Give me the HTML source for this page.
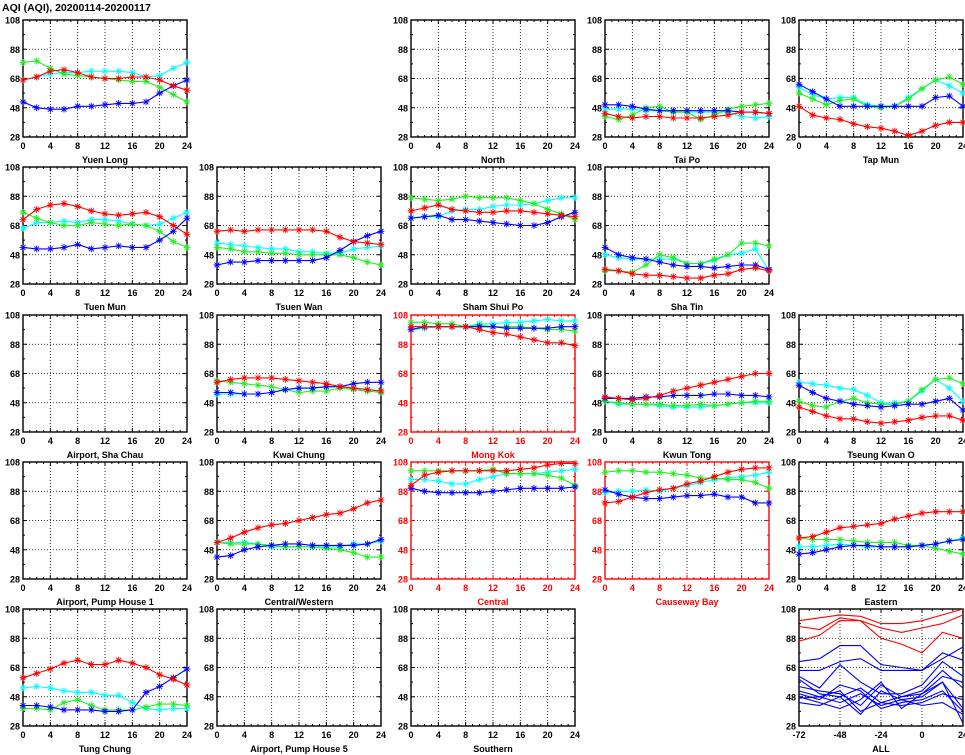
<!DOCTYPE html>
<html><head><meta charset="utf-8"><style>
html,body{margin:0;padding:0;background:#fff;}
svg{display:block;font-family:"Liberation Sans",sans-serif;}
</style></head><body>
<svg id="chart" width="965" height="755" viewBox="0 0 965 755" xmlns="http://www.w3.org/2000/svg">
<text x="2" y="11" font-size="10.5" font-weight="bold">AQI (AQI), 20200114-20200117</text>
</svg>
<script>
const hours=[0,2,4,6,8,10,12,14,16,18,20,22,24];
const yTicks=[28,48,68,88,108];
const yTickLabels=["28","48","68","88","108"];
const xTicks=[0,4,8,12,16,20,24];
const allHours=[-72,-60,-48,-36,-24,-12,0,12,24];
const allXTicks=[-72,-48,-24,0,24];

const yuenLongRed=[67,69,73,74,72,69,68,68,69,69,67,63,60];
const yuenLongGreen=[79,80,75,71,70,69,68,67,66,66,62,57,52];
const yuenLongCyan=[67,69,71,72,72,73,73,73,72,69,70,75,79];
const yuenLongBlue=[52,48,47,47,49,49,50,51,51,52,58,63,67];

const taiPoRed=[44,42,41,42,42,41,41,41,42,43,45,45,44];
const taiPoGreen=[42,40,43,48,49,45,45,40,43,47,49,50,51];
const taiPoCyan=[47,47,47,46,46,45,45,45,45,45,42,41,42];
const taiPoBlue=[50,50,49,47,46,46,46,46,46,46,45,45,44];

const tapMunRed=[49,43,41,40,37,35,34,32,29,32,36,38,38];
const tapMunGreen=[58,54,50,53,54,49,48,49,54,61,67,69,64];
const tapMunCyan=[62,57,54,55,55,50,49,49,55,61,67,63,58];
const tapMunBlue=[64,59,54,49,49,49,49,49,49,49,55,56,49];

const tuenMunRed=[72,79,82,83,81,78,76,75,76,77,74,68,62];
const tuenMunGreen=[77,73,70,68,68,70,69,68,69,68,64,57,53];
const tuenMunCyan=[66,70,70,71,70,72,72,71,69,68,69,73,77];
const tuenMunBlue=[53,52,52,53,55,52,53,54,53,53,58,64,73];

const tsuenWanRed=[64,65,64,65,65,65,65,65,64,60,57,56,55];
const tsuenWanGreen=[53,52,50,50,49,49,48,48,48,48,46,43,41];
const tsuenWanCyan=[56,55,54,53,52,52,50,50,49,49,52,53,54];
const tsuenWanBlue=[41,43,43,44,44,44,44,44,46,51,57,61,64];

const shamShuiPoRed=[78,80,82,79,78,77,77,78,78,77,76,75,74];
const shamShuiPoGreen=[87,86,85,86,88,87,87,87,85,83,79,76,72];
const shamShuiPoCyan=[73,74,74,78,79,79,81,82,82,83,85,87,87];
const shamShuiPoBlue=[73,74,75,72,72,71,70,69,68,68,70,74,77];

const shaTinRed=[38,37,35,34,34,33,32,32,34,35,38,39,37];
const shaTinGreen=[37,37,36,41,48,46,42,42,45,48,56,56,54];
const shaTinCyan=[48,46,45,45,45,45,42,42,44,48,49,52,37];
const shaTinBlue=[53,48,46,45,43,41,40,40,39,40,41,41,38];

const kwaiChungRed=[62,64,65,65,65,64,63,62,61,59,58,57,56];
const kwaiChungGreen=[63,62,61,60,59,57,55,56,56,58,57,56,55];
const kwaiChungCyan=[54,54,54,54,55,57,58,58,59,59,58,57,56];
const kwaiChungBlue=[55,55,54,54,55,57,58,58,59,59,61,62,62];

const mongKokRed=[100,100,100,100,100,98,96,95,93,91,89,89,87];
const mongKokGreen=[103,103,102,102,100,101,100,100,100,99,98,98,97];
const mongKokCyan=[98,99,100,100,100,102,102,103,103,104,105,104,104];
const mongKokBlue=[98,100,100,100,100,100,100,99,99,99,99,100,100];

const kwunTongRed=[52,51,50,51,53,56,58,60,62,64,66,68,68];
const kwunTongGreen=[49,48,47,47,47,46,46,47,46,47,48,49,49];
const kwunTongCyan=[49,47,47,47,46,45,45,45,46,47,48,48,48];
const kwunTongBlue=[51,51,51,52,52,53,53,53,54,54,53,53,52];

const tseungKwanORed=[45,42,39,37,37,35,34,35,36,38,39,39,36];
const tseungKwanOGreen=[49,46,45,49,51,48,47,47,49,57,64,65,61];
const tseungKwanOCyan=[62,61,60,58,57,53,48,48,49,56,64,58,49];
const tseungKwanOBlue=[60,55,51,49,47,46,45,46,47,47,49,51,43];

const centralWesternRed=[53,56,60,63,65,66,68,70,72,73,76,80,82];
const centralWesternGreen=[53,52,52,52,51,50,50,50,49,48,46,43,43];
const centralWesternCyan=[53,53,53,52,50,50,50,50,50,50,52,52,54];
const centralWesternBlue=[43,44,48,50,51,52,52,51,51,51,51,52,55];

const centralRed=[92,99,101,102,102,102,102,102,103,104,106,107,107];
const centralGreen=[102,102,102,102,102,102,103,100,100,100,99,97,92];
const centralCyan=[96,96,95,93,93,96,98,100,100,100,101,102,103];
const centralBlue=[90,88,87,87,87,87,88,89,90,90,90,90,91];

const causewayBayRed=[80,81,84,87,89,90,93,95,98,101,103,104,104];
const causewayBayGreen=[101,102,102,101,101,100,99,97,97,96,96,94,90];
const causewayBayCyan=[87,88,88,89,88,90,92,94,96,97,98,99,101];
const causewayBayBlue=[89,86,84,83,83,84,85,85,86,84,84,80,80];

const easternRed=[56,57,60,63,64,65,66,69,71,73,74,74,74];
const easternGreen=[56,55,55,55,54,53,53,53,51,51,49,47,45];
const easternCyan=[50,50,51,52,51,50,50,50,50,51,52,54,56];
const easternBlue=[45,46,48,50,51,51,50,50,50,51,52,54,55];

const tungChungRed=[61,64,67,71,73,70,70,73,71,68,63,60,56];
const tungChungGreen=[40,40,39,44,46,42,39,39,39,41,43,43,42];
const tungChungCyan=[54,55,54,52,51,51,49,49,44,40,39,40,40];
const tungChungBlue=[42,42,41,39,39,39,38,38,39,51,55,61,67];

const allRed1=[100,102,104,103,98,98,100,104,108];
const allRed2=[96,94,102,100,88,84,78,92,88];
const allRed3=[86,90,100,100,95,92,95,98,104];
const allBlue1=[72,74,83,83,70,68,66,78,73];
const allBlue2=[66,66,72,74,66,66,66,74,82];
const allBlue3=[62,54,70,58,50,50,56,72,62];
const allBlue4=[60,50,48,54,44,48,50,62,58];
const allBlue5=[55,52,50,42,56,48,52,66,54];
const allBlue6=[52,48,44,50,42,46,48,58,40];
const allBlue7=[50,46,56,52,40,44,46,52,38];
const allBlue8=[48,44,40,46,58,40,50,58,30];
const allBlue9=[47,48,52,38,44,42,44,50,46];
const allBlue10=[44,42,48,36,52,46,42,44,36];

const NS="http://www.w3.org/2000/svg";
const svg=document.getElementById('chart');
const rowTops=[20,167,315,462,609];
const PW=164, PH=117;
const COLORS={red:"#ff0000",green:"#22ee22",blue:"#0000ff",cyan:"#00ffff"};

function mk(tag,attrs,parent){const e=document.createElementNS(NS,tag);for(const k in attrs)e.setAttribute(k,attrs[k]);(parent||svg).appendChild(e);return e;}

function panel(col,row,title,slug,redFrame,series,xMin,xMax,xt,xs,markers){
  const L=23+194*col, T=rowTops[row];
  const fc=redFrame?"#ff0000":"#000";
  const g=mk('g',{});
  
  
  const sx=v=>L+(v-xMin)/(xMax-xMin)*PW;
  const sy=v=>T+PH-(v-28)/80*PH;
  [48,68,88].forEach(v=>{const l=mk('line',{x1:L,x2:L+PW,y1:sy(v),y2:sy(v),stroke:"#000","stroke-width":0.8,"stroke-dasharray":"1,2"},g);
    
    });
  xt.slice(1,-1).forEach(v=>{const l=mk('line',{x1:sx(v),x2:sx(v),y1:T,y2:T+PH,stroke:"#000","stroke-width":0.8,"stroke-dasharray":"1,2"},g);
    
    });
  const step=(xMax-xMin)/(xMin<0?16:24);
  for(let v=xMin;v<=xMax+0.01;v+=step){
    const len=(xt.some(t=>Math.abs(t-v)<0.01))?4:2;
    mk('line',{x1:sx(v),x2:sx(v),y1:T,y2:T+len,stroke:fc,"stroke-width":1},g);
    mk('line',{x1:sx(v),x2:sx(v),y1:T+PH,y2:T+PH-len,stroke:fc,"stroke-width":1},g);
  }
  for(let v=28;v<=108;v+=10){
    const len=(v%20===8)?4:2;
    mk('line',{x1:L,x2:L+len,y1:sy(v),y2:sy(v),stroke:fc,"stroke-width":1},g);
    mk('line',{x1:L+PW,x2:L+PW-len,y1:sy(v),y2:sy(v),stroke:fc,"stroke-width":1},g);
  }
  const fr=mk('rect',{x:L,y:T,width:PW,height:PH,fill:"none",stroke:fc,"stroke-width":1.4},g);
  
  
  yTicks.forEach((v,i)=>{const t=mk('text',{x:L-3,y:sy(v)+3.5,"text-anchor":"end","font-size":9,"font-weight":"bold",fill:fc},g);t.textContent=yTickLabels[i];
    
    });
  xt.forEach(v=>{const t=mk('text',{x:sx(v),y:T+PH+12,"text-anchor":"middle","font-size":9,"font-weight":"bold",fill:fc},g);t.textContent=String(v);
    
    });
  const tt=mk('text',{x:L+PW/2,y:T+PH+26,"text-anchor":"middle","font-size":9,"font-weight":"bold",fill:fc},g);
  tt.textContent=title;
  
  
  series.forEach(s=>{
    const pts=s.data.map((v,i)=>sx(xs[i]).toFixed(1)+","+sy(v).toFixed(1)).join(" ");
    const pl=mk('polyline',{points:pts,fill:"none",stroke:COLORS[s.c],"stroke-width":1.1},g);
    
    
    if(markers){
      s.data.forEach((v,i)=>{
        const x=sx(xs[i]), y=sy(v), r=3.4, d=r*0.72;
        const m=mk('path',{d:`M${x-r},${y}H${x+r}M${x},${y-r}V${y+r}M${x-d},${y-d}L${x+d},${y+d}M${x-d},${y+d}L${x+d},${y-d}`,stroke:COLORS[s.c],"stroke-width":0.9,fill:"none"},g);
        
        
      });
    }
  });
}
function S(r,g,c,b){return [{c:"cyan",data:c},{c:"green",data:g},{c:"blue",data:b},{c:"red",data:r}];}
function P(col,row,title,slug,red,ser){panel(col,row,title,slug,red,ser,0,24,xTicks,hours,true);}

P(0,0,"Yuen Long","yuen-long",false,S(yuenLongRed,yuenLongGreen,yuenLongCyan,yuenLongBlue));
P(2,0,"North","north",false,[]);
P(3,0,"Tai Po","tai-po",false,S(taiPoRed,taiPoGreen,taiPoCyan,taiPoBlue));
P(4,0,"Tap Mun","tap-mun",false,S(tapMunRed,tapMunGreen,tapMunCyan,tapMunBlue));
P(0,1,"Tuen Mun","tuen-mun",false,S(tuenMunRed,tuenMunGreen,tuenMunCyan,tuenMunBlue));
P(1,1,"Tsuen Wan","tsuen-wan",false,S(tsuenWanRed,tsuenWanGreen,tsuenWanCyan,tsuenWanBlue));
P(2,1,"Sham Shui Po","sham-shui-po",false,S(shamShuiPoRed,shamShuiPoGreen,shamShuiPoCyan,shamShuiPoBlue));
P(3,1,"Sha Tin","sha-tin",false,S(shaTinRed,shaTinGreen,shaTinCyan,shaTinBlue));
P(0,2,"Airport, Sha Chau","airport-sha-chau",false,[]);
P(1,2,"Kwai Chung","kwai-chung",false,S(kwaiChungRed,kwaiChungGreen,kwaiChungCyan,kwaiChungBlue));
P(2,2,"Mong Kok","mong-kok",true,S(mongKokRed,mongKokGreen,mongKokCyan,mongKokBlue));
P(3,2,"Kwun Tong","kwun-tong",false,S(kwunTongRed,kwunTongGreen,kwunTongCyan,kwunTongBlue));
P(4,2,"Tseung Kwan O","tseung-kwan-o",false,S(tseungKwanORed,tseungKwanOGreen,tseungKwanOCyan,tseungKwanOBlue));
P(0,3,"Airport, Pump House 1","airport-pump-house-1",false,[]);
P(1,3,"Central/Western","central-western",false,S(centralWesternRed,centralWesternGreen,centralWesternCyan,centralWesternBlue));
P(2,3,"Central","central",true,S(centralRed,centralGreen,centralCyan,centralBlue));
P(3,3,"Causeway Bay","causeway-bay",true,S(causewayBayRed,causewayBayGreen,causewayBayCyan,causewayBayBlue));
P(4,3,"Eastern","eastern",false,S(easternRed,easternGreen,easternCyan,easternBlue));
P(0,4,"Tung Chung","tung-chung",false,S(tungChungRed,tungChungGreen,tungChungCyan,tungChungBlue));
P(1,4,"Airport, Pump House 5","airport-pump-house-5",false,[]);
P(2,4,"Southern","southern",false,[]);
const allSeries=[allBlue1,allBlue2,allBlue3,allBlue4,allBlue5,allBlue6,allBlue7,allBlue8,allBlue9,allBlue10].map(d=>({c:"blue",data:d}))
  .concat([allRed1,allRed2,allRed3].map(d=>({c:"red",data:d})));
panel(4,4,"ALL","all",false,allSeries,-72,24,allXTicks,allHours,false);
</script>
</body></html>
